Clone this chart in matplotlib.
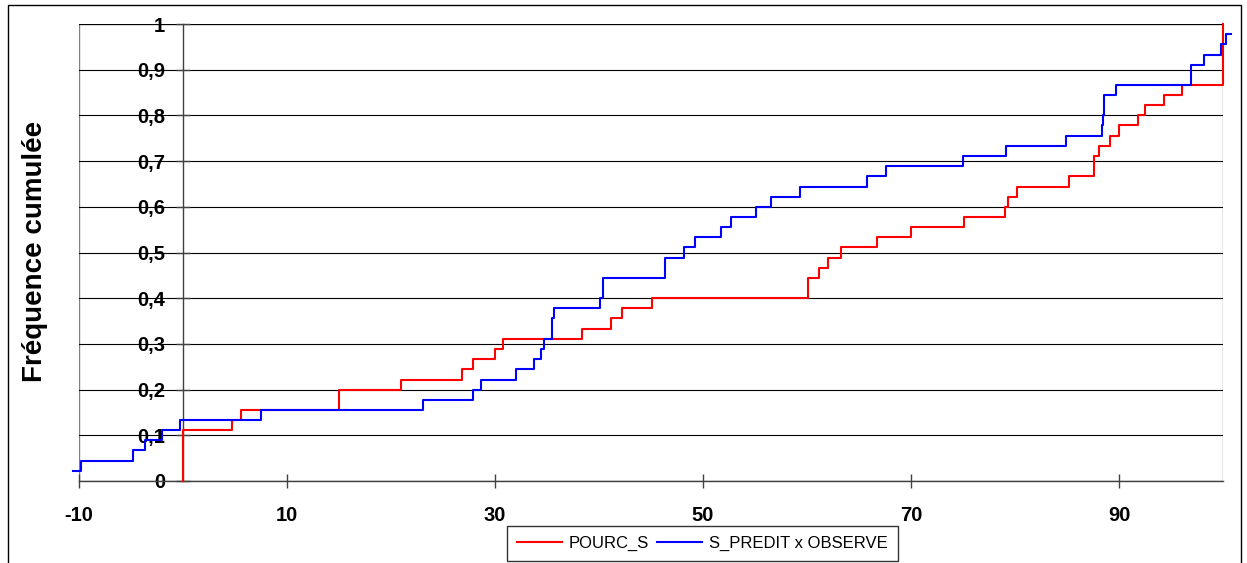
import matplotlib
matplotlib.use("Agg")
import matplotlib.pyplot as plt
from matplotlib.patches import Rectangle
from matplotlib.lines import Line2D

# ---- data ----
series_names = ["POURC_S", "S_PREDIT x OBSERVE"]

red_x = [0, 0, 4.75, 5.6, 15.0, 21.0, 26.8, 27.9, 30.0, 30.8, 38.4, 41.2, 42.2,
         45.1, 60.1, 61.2, 62.05, 63.25, 66.7, 70.0, 75.1, 79.0, 79.3, 80.15,
         85.15, 87.6, 88.1, 89.1, 90.0, 91.8, 92.5, 94.3, 96.1, 100.0]
red_y = [0.0, 0.111, 0.133, 0.156, 0.2, 0.222, 0.244, 0.267, 0.289, 0.311,
         0.333, 0.356, 0.378, 0.4, 0.444, 0.467, 0.489, 0.511, 0.533, 0.556,
         0.578, 0.6, 0.622, 0.644, 0.667, 0.711, 0.733, 0.756, 0.778, 0.8,
         0.822, 0.844, 0.867, 1.0]

blue_x = [-10.55, -9.85, -4.8, -3.7, -2.0, -0.3, 7.5, 23.05, 27.9, 28.7, 32.0,
          33.75, 34.4, 34.7, 35.5, 35.65, 40.1, 40.4, 46.3, 48.2, 49.2, 51.7,
          52.65, 55.1, 56.5, 59.3, 65.8, 67.6, 75.0, 79.1, 84.9, 88.4, 88.5,
          88.6, 89.7, 96.9, 98.2, 99.8, 100.3, 100.8]
blue_y = [0.022, 0.044, 0.067, 0.089, 0.111, 0.133, 0.156, 0.178, 0.2, 0.222,
          0.244, 0.267, 0.289, 0.311, 0.356, 0.378, 0.4, 0.444, 0.489, 0.511,
          0.533, 0.556, 0.578, 0.6, 0.622, 0.644, 0.667, 0.689, 0.711, 0.733,
          0.756, 0.778, 0.8, 0.844, 0.867, 0.911, 0.933, 0.956, 0.978, 0.978]

x_ticks = [-10, 10, 30, 50, 70, 90]
y_ticks = [0, 0.1, 0.2, 0.3, 0.4, 0.5, 0.6, 0.7, 0.8, 0.9, 1.0]
y_ticklabels = ["0", "0,1", "0,2", "0,3", "0,4", "0,5", "0,6", "0,7", "0,8", "0,9", "1"]
y_label = "Fréquence cumulée"

# ---- figure ----
plt.rcParams['font.family'] = ['Liberation Sans', 'DejaVu Sans']
W, H = 1247, 563
fig = plt.figure(figsize=(W / 100, H / 100), dpi=100)
fig.patch.set_facecolor('white')

# outer chart frame
fig.add_artist(Rectangle((8 / W, -0.05), (1241 - 8) / W, 1.05 - 5 / H,
                         transform=fig.transFigure, fill=False,
                         edgecolor='black', linewidth=1.0))

L, R, T, B = 79, 1223, 24, 481
ax = fig.add_axes([L / W, (H - B) / H, (R - L) / W, (B - T) / H])
ax.set_xlim(-10, 100)
ax.set_ylim(0, 1)

# plot area border (gray)
ax.add_patch(Rectangle((0, 0), 1, 1, transform=ax.transAxes, fill=False,
                       edgecolor='#808080', linewidth=1.0, zorder=0.5))

# horizontal gridlines
for yv in y_ticks[1:]:
    ax.axhline(yv, color='black', linewidth=0.8, zorder=1)

# spines
for s in ['top', 'right']:
    ax.spines[s].set_visible(False)
ax.spines['left'].set_position(('data', 0))
ax.spines['left'].set_color('#404040')
ax.spines['bottom'].set_color('#404040')
ax.spines['left'].set_linewidth(1.0)
ax.spines['bottom'].set_linewidth(1.0)

ax.set_xticks(x_ticks)
ax.set_xticklabels([str(v) for v in x_ticks], fontsize=14.5, fontweight='bold')
ax.set_yticks(y_ticks)
ax.set_yticklabels(y_ticklabels, fontsize=14.5, fontweight='bold')
ax.tick_params(axis='x', direction='inout', length=9.5, width=1.0,
               color='#404040', pad=13)
ax.tick_params(axis='y', direction='inout', length=9.5, width=1.0,
               color='#404040', pad=8)

ax.step(red_x, red_y, where='post', color='#FF0000', linewidth=1.5,
        clip_on=False, zorder=3)
ax.step(blue_x, blue_y, where='post', color='#0000FF', linewidth=1.5,
        clip_on=False, zorder=3)

fig.text(42 / W, 1 - 251 / H, y_label, rotation=90, rotation_mode='anchor',
         ha='center', va='baseline', fontsize=20, fontweight='bold')

handles = [Line2D([], [], color='#FF0000', linewidth=1.5),
           Line2D([], [], color='#0000FF', linewidth=1.5)]
leg = fig.legend(handles, series_names, loc='center',
                 bbox_to_anchor=(702.5 / W, 19.5 / H), ncol=2, fontsize=12,
                 frameon=True, fancybox=False, edgecolor='black',
                 handlelength=2.7, handletextpad=0.4, columnspacing=0.5,
                 borderpad=0.6, borderaxespad=0)
leg.get_frame().set_linewidth(1.0)

fig.savefig('out.png', dpi=100)
